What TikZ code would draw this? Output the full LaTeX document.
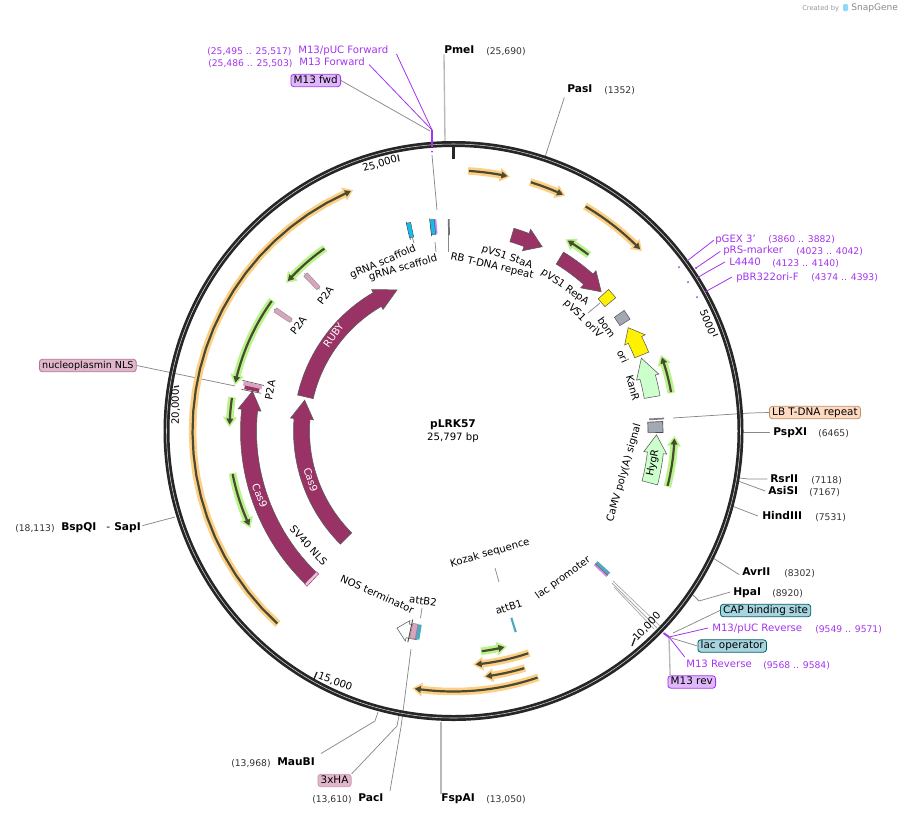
\documentclass[tikz,border=0pt]{standalone}
\usepackage{fontspec}
\setmainfont{DejaVu Sans}
\definecolor{purp}{HTML}{A534EE}
\definecolor{maroon}{HTML}{993366}
\definecolor{ring}{HTML}{262626}
\definecolor{dk}{HTML}{4A4A32}
\definecolor{ohalo}{HTML}{FDCF85}
\definecolor{ghalo}{HTML}{B8F48A}
\definecolor{mint}{HTML}{CCFFCC}
\definecolor{gbox}{HTML}{A2A8B4}
\definecolor{lg}{HTML}{888888}
\definecolor{p2a}{HTML}{D8A4BE}
\definecolor{cy}{HTML}{12BCEB}
\definecolor{teal2}{HTML}{4FA9C0}
\tikzset{
 x=0.75pt,y=-0.75pt,
 lab/.style={inner sep=0pt,font=\fontsize{7.6}{9}\selectfont,text height=5.8pt,text depth=0.5pt},
 site/.style={lab,anchor=west,font=\fontsize{8}{9}\selectfont\bfseries},
 num/.style={lab,anchor=west,font=\fontsize{6.9}{9}\selectfont,text=black!80},
 pur/.style={lab,anchor=west,text=purp},
 purnum/.style={lab,anchor=west,text=purp,font=\fontsize{6.9}{9}\selectfont},
 rot/.style={lab,text depth=1.5pt,rotate=#1},
 pill/.style={lab,font=\fontsize{7.8}{9}\selectfont,text depth=1.5pt,rounded corners=2.2pt,line width=0.6pt,inner xsep=2.1pt,inner ysep=1pt,anchor=west},
 cut/.style={draw=lg,line width=0.55pt},
 cutb/.style={draw=black!28,line width=1pt},
 prim/.style={draw=purp,line width=0.6pt},
 boxb/.style={draw=black!65,line width=0.4pt},
}
\newcommand\fa[7]{%
 \pgfmathsetmacro\hd{#2-sign(#2-#1)*#6/#3*57.3}%
 \pgfmathsetmacro\rIn{#3-#4/2}\pgfmathsetmacro\rOt{#3+#4/2}%
 \pgfmathsetmacro\rHi{#3-#5/2}\pgfmathsetmacro\rHo{#3+#5/2}%
 \path[#7] plot[domain=#1:\hd,samples=25] ({\x-90}:{\rOt}) -- ({\hd-90}:{\rHo}) -- ({#2-90}:{#3}) -- ({\hd-90}:{\rHi}) -- plot[domain=\hd:#1,samples=25] ({\x-90}:{\rIn}) -- cycle;
}
\newcommand\thin[4]{%
 \fa{#1}{#2}{#3}{7.5}{14}{10}{fill=#4}%
 \pgfmathsetmacro\tipb{#2-sign(#2-#1)*2.5/#3*57.3}%
 \pgfmathsetmacro\tailb{#1+sign(#2-#1)*0.8/#3*57.3}%
 \fa{\tailb}{\tipb}{#3}{2.2}{7}{6}{fill=dk}%
}
\newcommand\rb[5]{%
 \pgfmathsetmacro\rIn{#2-#3/2}\pgfmathsetmacro\rOt{#2+#3/2}%
 \pgfmathsetmacro\tA{#1-#4/2-90}\pgfmathsetmacro\tB{#1+#4/2-90}%
 \path[#5] (\tA:\rOt) -- (\tB:\rOt) -- (\tB:\rIn) -- (\tA:\rIn) -- cycle;
}
\newcommand\rl[4]{\draw[#4] ({#1-90}:#2) -- ({#1-90}:#3);}
\begin{document}
\begin{tikzpicture}
\fill[white] (0,0) rectangle (900,815);
\useasboundingbox (0,0) rectangle (900,815);

% watermark
\node[lab,anchor=west,font=\fontsize{5}{6}\selectfont,text=black!40] (wmA) at (802,7) {Created by};
\fill[cyan!45,rounded corners=0.8pt] (843,4) rectangle (848,11);
\node[lab,anchor=west,font=\fontsize{6.8}{8}\selectfont,text=black!45] (wmB) at (851,7) {SnapGene};

% labels: restriction sites
\node[site] (pmei) at (444,50) {PmeI};
\node[num] (pmein) at (486,51) {(25,690)};
\node[site] (pasi) at (567,89) {PasI};
\node[num] (pasin) at (604,90) {(1352)};
\node[site] (pspxi) at (773,432) {PspXI};
\node[num] (pspxin) at (818,433) {(6465)};
\node[site] (rsrii) at (770,479) {RsrII};
\node[num] (rsriin) at (811,480) {(7118)};
\node[site] (asisi) at (768,491) {AsiSI};
\node[num] (asisin) at (809,492) {(7167)};
\node[site] (hindiii) at (762,516) {HindIII};
\node[num] (hindiiin) at (815,517) {(7531)};
\node[site] (avrii) at (742,572) {AvrII};
\node[num] (avriin) at (784,573) {(8302)};
\node[site] (hpai) at (733,592) {HpaI};
\node[num] (hpain) at (772,593) {(8920)};
\node[site] (fspai) at (441,798) {FspAI};
\node[num] (fspain) at (486,799) {(13,050)};
\node[site] (paci) at (358,798) {PacI};
\node[num] (pacin) at (312,799) {(13,610)};
\node[site] (maubi) at (277,762) {MauBI};
\node[num] (maubin) at (231,763) {(13,968)};
\node[site] (bspqi) at (61,527) {BspQI};
\node[num] (bspqin) at (15,528) {(18,113)};
\node[site,font=\fontsize{8}{9}\selectfont] (sapiD) at (106,527) {-};
\node[site] (sapi) at (114,527) {SapI};

% labels: primers
\node[pur] (m13puc) at (298,50) {M13/pUC Forward};
\node[purnum] (m13pucn) at (207,51) {(25,495 .. 25,517)};
\node[pur] (m13f) at (299,62) {M13 Forward};
\node[purnum] (m13fn) at (208,63) {(25,486 .. 25,503)};
\node[pur] (pgex) at (715,239) {pGEX 3'};
\node[purnum] (pgexn) at (768,239) {(3860 .. 3882)};
\node[pur] (prs) at (723,250) {pRS-marker};
\node[purnum] (prsn) at (796,251) {(4023 .. 4042)};
\node[pur] (l44) at (729,262) {L4440};
\node[purnum] (l44n) at (772,263) {(4123 .. 4140)};
\node[pur] (pbr) at (736,277) {pBR322ori-F};
\node[purnum] (pbrn) at (811,277) {(4374 .. 4393)};
\node[pur] (m13pr) at (712,628) {M13/pUC Reverse};
\node[purnum] (m13prn) at (815,629) {(9549 .. 9571)};
\node[pur] (m13r) at (686,664) {M13 Reverse};
\node[purnum] (m13rn) at (763,665) {(9568 .. 9584)};

% pills
\node[pill,draw=purp,fill=purp!35] (fwd) at (290.5,80.5) {M13 fwd};
\node[pill,draw=purp,fill=purp!35] (rev) at (667.5,682) {M13 rev};
\node[pill,draw=teal!75!black,fill=teal2!50] (cap) at (720,610.5) {CAP binding site};
\node[pill,draw=teal!75!black,fill=teal2!50] (lacop) at (697.5,646) {lac operator};
\node[pill,draw=orange!55!black!60,fill=orange!20!white!95!red] (lb) at (769,412.5) {LB T-DNA repeat};
\node[pill,font=\fontsize{7.2}{9}\selectfont,draw=maroon!70,fill=p2a!80] (nuc) at (39,365.5) {nucleoplasmin NLS};
\node[pill,draw=maroon!50,fill=p2a!80] (ha) at (317.5,780.5) {3xHA};

% leaders behind ring
\coordinate (rPme) at (445,143); \draw[cutb] (pmei.south west) -- (rPme);
\coordinate (rPas) at (545,157); \draw[cut] ([xshift=-2pt,yshift=-3pt]pasi.south west) -- (rPas);
\coordinate (rLB) at (673,418); \coordinate (mLB) at (750,413); \draw[cut] (rLB) -- (mLB) -- (lb.west);
\coordinate (rPsp) at (742,432); \draw[cut] (rPsp) -- ([xshift=-2pt]pspxi.west);
\coordinate (rRsr) at (740,478); \coordinate (mRsr) at (748,479); \draw[cut] (rRsr) -- (mRsr) -- ([xshift=-2pt]rsrii.west);
\coordinate (rAsi) at (738,481); \draw[cut] (rAsi) -- ([xshift=-2pt]asisi.west);
\coordinate (rHin) at (732,506); \draw[cut] (rHin) -- ([xshift=-3pt]hindiii.west);
\coordinate (rAvr) at (713,558); \draw[cut] (rAvr) -- ([xshift=-2pt,yshift=-2pt]avrii.west);
\coordinate (rHpa) at (693,595); \coordinate (mHpa) at (699,601); \draw[cut] (rHpa) -- (mHpa) -- ([xshift=-2pt]hpai.west);
\coordinate (rCap) at (673,633); \draw[cut] (rCap) -- (cap.west);
\coordinate (rLac) at (668,637); \draw[cut] (rLac) -- (lacop.west);
\coordinate (rRev) at (669,638); \draw[cutb] (rRev) -- ([xshift=2pt]rev.north west);
\coordinate (pA) at (613,581); \coordinate (pB) at (612,583); \coordinate (pC) at (614,587);
\coordinate (qA) at (661,627); \coordinate (qB) at (657,628); \coordinate (qC) at (654,629);
\draw[cut,draw=lg!70] (pA) -- (qA); \draw[cut,draw=lg!70] (pB) -- (qB); \draw[cut,draw=lg!70] (pC) -- (qC);
\coordinate (rFsp) at (441,722); \draw[cutb] (fspai.north west) -- (rFsp);
\coordinate (rPac) at (411,649); \coordinate (mPac) at (401,727); \draw[cut] (rPac) -- (mPac) -- ([xshift=24pt,yshift=2pt]paci.north west);
\coordinate (rHa) at (399,716); \coordinate (mHa) at (397,726); \draw[cut] (rHa) -- (mHa) -- (ha.north east);
\coordinate (rMau) at (378,712); \coordinate (mMau) at (375,721); \draw[cut] (rMau) -- (mMau) -- ([xshift=33pt,yshift=3pt]maubi.north west);
\coordinate (rBsp) at (175,517); \draw[cut] (rBsp) -- ([xshift=1pt,yshift=1pt]sapi.east);
\coordinate (rNuc) at (235,386); \draw[cut] (nuc.east) -- (rNuc);
\coordinate (rFwd) at (430,131); \draw[cut] (fwd.east) -- (rFwd);
\coordinate (rTop) at (432,155); \coordinate (mTop) at (437,210); \draw[cut] (rTop) -- (mTop);
\coordinate (aB2a) at (422,608); \coordinate (aB2b) at (420.5,618); \draw[cut] (aB2a) -- (aB2b);
\coordinate (kzA) at (495,568); \coordinate (kzB) at (499,582); \draw[cut] (kzA) -- (kzB);
\coordinate (grA) at (435,242); \coordinate (grB) at (436,252); \draw[cut] (grA) -- (grB);
\coordinate (rbA) at (448,235); \coordinate (rbB) at (448,252); \draw[cut] (rbA) -- (rbB);
\coordinate (grC) at (412.5,238); \coordinate (grD) at (414,243); \draw[cut] (grC) -- (grD);
\coordinate (orA) at (600,303); \coordinate (orB) at (588,313); \draw[cut] (orA) -- (orB);

\begin{scope}[shift={(453.5,431)}]
% ring
\draw[ring,line width=4.5pt] (0,0) circle (287);
\draw[white!85!black,line width=0.4pt] (0,0) circle (287);

% orange thin features
\thin{3.2}{12.5}{260.5}{ohalo}
\thin{17.1}{25.4}{260.5}{ohalo}
\thin{30.3}{46.3}{260.5}{ohalo}
\thin{-137.7}{-22.6}{261}{ohalo}
\thin{161}{189.1}{260.5}{ohalo}
\thin{161.2}{175.2}{234.5}{ohalo}
\thin{163.2}{173.1}{247.5}{ohalo}
% green thin features
\thin{172.9}{166.1}{222}{ghalo}
\thin{37.6}{30.3}{222}{ghalo}
\thin{80.1}{69.9}{221}{ghalo}
\thin{104.6}{91.3}{221}{ghalo}
\thin{-35.1}{-48.5}{223.5}{ghalo}
\thin{-54.2}{-78.1}{223.5}{ghalo}
\thin{-81.3}{-89}{224}{ghalo}
\thin{-100.8}{-115.5}{225}{ghalo}

% big arrows
\fa{-135.8}{-78.8}{205}{16}{23}{19}{fill=maroon,boxb}
\fa{-135}{-78.3}{152}{16}{23}{19}{fill=maroon,boxb}
\fa{-77}{-21.8}{152}{16}{23}{22}{fill=maroon,boxb}
\fa{16.6}{25.7}{204.5}{14}{23}{17}{fill=maroon,boxb}
\fa{31.6}{46.7}{203}{14}{23}{18}{fill=maroon,boxb}
\fa{68}{59.4}{203}{15}{23}{14}{fill=yellow,boxb}
\fa{80.3}{68.8}{201.5}{16}{23}{20}{fill=mint,boxb}
\fa{104.8}{91.1}{203}{16}{23}{18}{fill=mint,boxb}
\fa{190}{196}{205}{14}{21}{11}{fill=white,boxb}

% boxes
\rb{56.2}{203}{12}{2.9}{fill=gbox,boxb}
\rb{49.1}{203}{14}{3}{fill=yellow,boxb}
\rb{88.9}{202}{15}{3}{fill=gbox,draw=black!70,line width=0.5pt}
\rl{86.6}{196}{211}{draw=black!50,line width=1.3pt}
\rl{-1.3}{196}{212}{draw=black!55,line width=1.3pt}
% gRNA scaffolds
\rl{-12.7}{196}{214}{draw=black!70,line width=0.5pt}
\rb{-12.2}{205.5}{15}{1.2}{fill=cy,draw=black!70,line width=0.3pt}
\rb{-5.0}{205}{15}{0.7}{fill=purp!60}
\rl{-6.4}{196}{214}{draw=black!70,line width=0.5pt}
\rb{-5.8}{205}{15}{1.2}{fill=cy,draw=black!70,line width=0.3pt}
% P2A
\rl{-43.4}{195}{217}{draw=black!60,line width=0.4pt}
\rb{-43.4}{206}{19}{1.3}{fill=p2a,draw=black!45,line width=0.3pt}
\rl{-55.8}{195}{217}{draw=black!60,line width=0.4pt}
\rb{-55.8}{206}{19}{1.3}{fill=p2a,draw=black!45,line width=0.3pt}
\rl{-76.5}{195}{217}{draw=black!70,line width=0.5pt}
\rl{-78.9}{196}{216}{draw=black!70,line width=0.5pt}
\rb{-77.2}{206}{19}{1.2}{fill=p2a}
\rb{-78.2}{206}{15}{1}{fill=maroon}
% SV40 NLS
\rb{-136.2}{205}{17}{0.9}{fill=p2a!60,draw=maroon,line width=0.35pt}
% attB1, lac promoter
\rb{162.8}{203}{15}{0.6}{fill=teal2}
\rb{132.5}{202.7}{17}{0.8}{fill=teal2}
\rb{133.1}{202.7}{17}{0.4}{fill=black!55}
\rb{133.5}{202.7}{17}{0.4}{fill=purp!60}
% attB2 / NOS area
\rb{189.9}{204}{15}{1.2}{fill=teal2}
\rb{191.2}{204}{15}{1.5}{fill=p2a,draw=p2a!70!black,line width=0.3pt}
\rl{192.2}{193}{216}{draw=black!70,line width=0.7pt}

% ticks
\rl{0}{272}{284}{draw=ring,line width=2.2pt}
\rl{-11.4}{275}{282}{draw=ring,line width=0.9pt}
\end{scope}

\coordinate (t5a) at (718,334); \coordinate (t5b) at (713,336); \draw[ring,line width=0.8pt] (t5a) -- (t5b);
\coordinate (t10a) at (635,638); \coordinate (t10b) at (632,646); \draw[ring,line width=1pt] (t10a) -- (t10b);
\coordinate (t15a) at (317,672); \coordinate (t15b) at (314,679); \draw[ring,line width=1pt] (t15a) -- (t15b);
\coordinate (t20a) at (179,386); \coordinate (t20b) at (174,387); \draw[ring,line width=1pt] (t20a) -- (t20b);

% primer leaders over ring
\coordinate (uA) at (432,130); \coordinate (uB) at (432,147); \coordinate (uC) at (432,151.5);
\draw[prim] ([xshift=3pt,yshift=-2pt]m13f.east) -- (uA);
\draw[prim] ([xshift=6pt,yshift=-3pt]m13puc.east) -- (uA);
\draw[draw=purp,line width=1.2pt] (uA) -- (uB);
\fill[purp] (uC) circle (1);
\coordinate (g1) at (687,261); \coordinate (g2) at (679,267); \draw[prim] ([xshift=-1pt,yshift=-1pt]pgex.west) -- (g1); \fill[purp] (g2) circle (1);
\coordinate (r1) at (696,268); \draw[prim] ([xshift=-2pt,yshift=-1pt]prs.west) -- (r1); \fill[purp] (r1) circle (1.2);
\coordinate (l1) at (707,272); \coordinate (l2) at (697,278); \coordinate (l3) at (688,282); \draw[prim] ([xshift=-3pt]l44.west) -- (l1) -- (l2); \fill[purp] (l3) circle (1);
\coordinate (b1) at (705,292); \coordinate (b2) at (697,297); \draw[prim] ([xshift=-3pt]pbr.west) -- (b1); \fill[purp] (b2) circle (1);
\coordinate (mA) at (663.5,633); \coordinate (mB) at (669,637); \draw[draw=purp,line width=1.4pt] (mA) -- (mB);
\draw[prim] ([xshift=-3pt]m13pr.west) -- (mB);
\draw[prim] (mB) -- ([yshift=2pt,xshift=-1pt]m13r.north west);

% text inside / around map
\node[rot=0,font=\fontsize{8}{9}\selectfont\bfseries] (title) at (453,425) {pLRK57};
\node[rot=0,font=\fontsize{7.6}{9}\selectfont] (bp) at (453,438) {25,797 bp};
\node[rot=17] (tk25) at (380,164) {25,000};
\node[rot=-68] (tk5) at (707,322) {5000};
\node[rot=47] (tk10) at (647,627) {10,000};
\node[rot=-20] (tk15) at (335,682) {15,000};
\node[rot=90] (tk20) at (176,407) {20,000};
\node[rot=-19] (tStaA) at (507,257) {pVS1 StaA};
\node[rot=-13] (tRB) at (492,266) {RB T-DNA repeat};
\node[rot=-35] (tRepA) at (565,287) {pVS1 RepA};
\node[rot=-45] (tOriV) at (583,319) {pVS1 oriV};
\node[rot=-55] (tBom) at (606,328) {bom};
\node[rot=-65] (tOri) at (622,357) {ori};
\node[rot=-75] (tKan) at (632,388) {KanR};
\node[rot=78] (tHyg) at (653,463) {HygR};
\node[rot=74] (tCaMV) at (624,473) {CaMV poly(A) signal};
\node[rot=36] (tLac) at (563,578) {lac promoter};
\node[rot=18] (tB1) at (509,608) {attB1};
\node[rot=16] (tKz) at (490,553) {Kozak sequence};
\node[rot=-8] (tB2) at (423,602) {attB2};
\node[rot=-24] (tNos) at (377,595) {NOS terminator};
\node[rot=-47] (tSV) at (308,546) {SV40 NLS};
\node[rot=-68,text=white] (tC1) at (259,496) {Cas9};
\node[rot=-72,text=white] (tC2) at (310,480) {Cas9};
\node[rot=55,text=white] (tRuby) at (334,336) {RUBY};
\node[rot=52] (tP1) at (326,296) {P2A};
\node[rot=52] (tP2) at (299,326) {P2A};
\node[rot=80] (tP3) at (271,390) {P2A};
\node[rot=23] (tG1) at (383,262) {gRNA scaffold};
\node[rot=16] (tG2) at (403,268) {gRNA scaffold};
\end{tikzpicture}
\end{document}
